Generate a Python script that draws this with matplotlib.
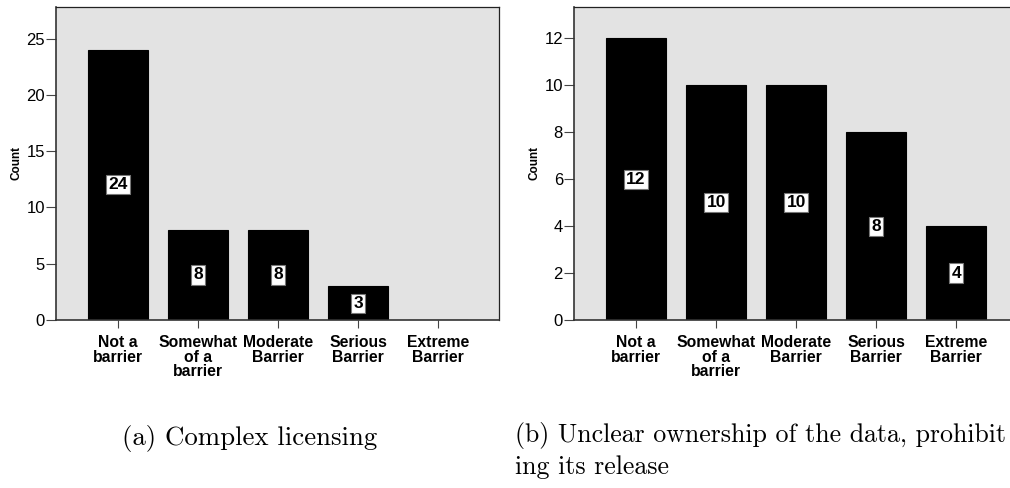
import matplotlib
matplotlib.use("Agg")
import matplotlib.pyplot as plt
import numpy as np

categories = ["Not a\nbarrier", "Somewhat\nof a\nbarrier", "Moderate\nBarrier",
              "Serious\nBarrier", "Extreme\nBarrier"]
counts_a = [24, 8, 8, 3, 0]
counts_b = [12, 10, 10, 8, 4]
yticks_a = [0, 5, 10, 15, 20, 25]
yticks_b = [0, 2, 4, 6, 8, 10, 12]
caption_a = "(a) Complex licensing"
caption_b = "(b) Unclear ownership of the data, prohibit\ning its release"

W, H = 1010, 488
fig = plt.figure(figsize=(W / 100, H / 100), dpi=100)
plt.rcParams['font.family'] = ['Liberation Sans', 'DejaVu Sans']


def px_axes(x0, y0, x1, y1):
    # pixel box (top-left origin) -> figure fraction
    return fig.add_axes([x0 / W, 1 - y1 / H, (x1 - x0) / W, (y1 - y0) / H])


def draw_panel(ax, counts, yticks, ymax):
    x = np.arange(len(categories))
    ax.set_facecolor('#e3e3e3')
    ax.bar(x, counts, width=0.75, color='black', edgecolor='black', linewidth=0.8)
    for xi, v in zip(x, counts):
        if v > 0:
            ax.text(xi, v / 2, str(v), ha='center', va='center', fontsize=12.5,
                    fontweight='bold', color='black',
                    bbox=dict(boxstyle='square,pad=0.12', fc='white', ec='#777777', lw=0.8))
    ax.set_xlim(-0.775, 4.76)
    ax.set_ylim(0, ymax)
    ax.set_yticks(yticks)
    ax.set_xticks(x)
    ax.set_xticklabels(categories, fontsize=11.3, fontweight='bold', linespacing=0.95)
    ax.tick_params(axis='y', length=7, width=0.8, color='#444444', labelsize=12, pad=1)
    ax.tick_params(axis='x', length=6, width=0.8, color='#444444', pad=5)
    ax.set_ylabel("Count", fontsize=8.5, fontweight='bold', labelpad=3)
    for s in ['left', 'bottom']:
        ax.spines[s].set_color('#333333')
        ax.spines[s].set_linewidth(1.2)
    for s in ['top', 'right']:
        ax.spines[s].set_color('#222222')
        ax.spines[s].set_linewidth(0.9)


ax1 = px_axes(56, 7, 499, 320)
draw_panel(ax1, counts_a, yticks_a, 27.8)

ax2 = px_axes(574, 7, 1017, 320)
draw_panel(ax2, counts_b, yticks_b, 13.34)

fig.text(122 / W, 1 - 438 / H, caption_a, fontfamily='cmr10', fontsize=19.3,
         ha='left', va='center')
fig.text(515 / W, 1 - 422 / H, caption_b, fontfamily='cmr10', fontsize=18.6,
         ha='left', va='top', linespacing=1.32)

fig.savefig("out.png", dpi=100, facecolor='white')
